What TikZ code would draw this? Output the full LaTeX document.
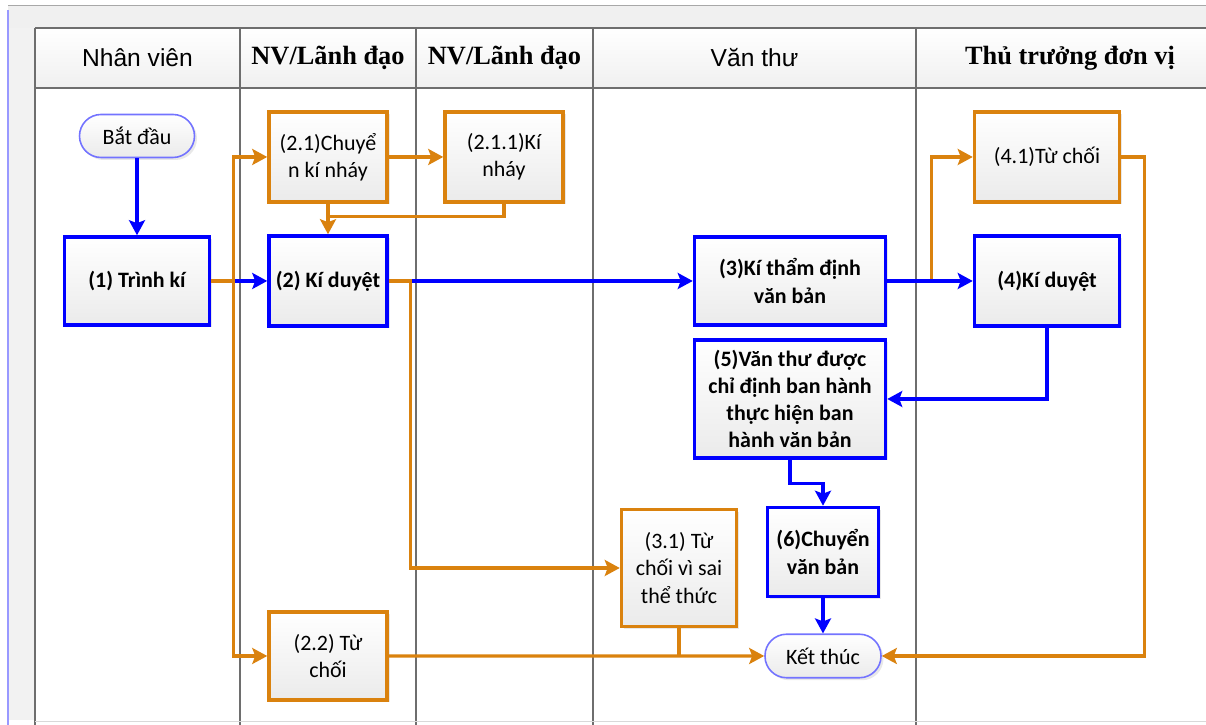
\documentclass[tikz,border=0pt]{standalone}
\usepackage{fontspec}
\setmainfont{Carlito}
\newfontfamily\lanesans{Liberation Sans}
\newfontfamily\laneserif{Liberation Serif}
\usetikzlibrary{arrows.meta, shadows}
\definecolor{flowblue}{RGB}{0,0,255}
\definecolor{flowamber}{RGB}{218,130,14}
\definecolor{laneline}{RGB}{110,110,110}
\tikzset{
    stepbox/.style={rectangle, draw, line width=2pt, top color=white, bottom color=gray!16, align=center, inner sep=2pt,
        font=\fontsize{12.5}{15.5}\selectfont, drop shadow={opacity=0.18, shadow xshift=0.05cm, shadow yshift=-0.05cm}},
    mainstep/.style={stepbox, draw=flowblue, font=\fontsize{12.5}{15.5}\selectfont\bfseries},
    sidestep/.style={stepbox, draw=flowamber},
    terminal/.style={stepbox, draw=flowblue!55, line width=0.9pt, rounded corners=0.43cm, minimum width=2.32cm, minimum height=0.87cm},
    blueline/.style={draw=flowblue, line width=1.8pt},
    amberline/.style={draw=flowamber, line width=1.8pt},
    lanehead/.style={inner sep=0pt}
}

\begin{document}
\begin{tikzpicture}[
    >={Stealth[length=0.3cm, width=0.32cm, inset=0.06cm]}, node distance=2.48cm
]
\useasboundingbox (0,0) rectangle (24.12,14.5);
% swimlane frame
\fill[gray!12] (0.16,13.94) rectangle (24.12,14.4);
\draw[laneline!60, line width=0.5pt] (0.16,14.4) -- (24.12,14.4);
\fill[gray!10] (0.16,0.1) rectangle (0.7,13.94);
\shade[top color=white, bottom color=gray!12] (0.7,12.74) rectangle (24.12,13.94);
\draw[blue!40, line width=1.4pt] (0.16,0) -- (0.16,14.3);
\draw[laneline, line width=0.7pt] (0.7,13.94) -- (24.12,13.94);
\draw[laneline, line width=0.7pt] (0.7,12.74) -- (24.12,12.74);
\draw[laneline, line width=0.7pt] (0.7,0) -- (0.7,13.94);
\draw[laneline, line width=0.7pt] (4.8,0) -- (4.8,13.94);
\draw[laneline, line width=0.7pt] (8.32,0) -- (8.32,13.94);
\draw[laneline, line width=0.7pt] (11.86,0) -- (11.86,13.94);
\draw[laneline, line width=0.7pt] (18.32,0) -- (18.32,13.94);
\draw[gray!30, line width=0.5pt] (0.7,0.08) -- (24.12,0.08);

\node (lane_staff) [lanehead] at (2.75,13.34) {\lanesans\fontsize{14}{16}\selectfont Nhân viên};
\node (lane_lead_a) [lanehead] at (6.56,13.34) {\laneserif\bfseries\fontsize{15}{17}\selectfont NV/Lãnh đạo};
\node (lane_lead_b) [lanehead] at (10.09,13.34) {\laneserif\bfseries\fontsize{15}{17}\selectfont NV/Lãnh đạo};
\node (lane_clerk) [lanehead] at (15.09,13.34) {\lanesans\fontsize{14}{16}\selectfont Văn thư};
\node (lane_head) [lanehead] at (21.4,13.34) {\laneserif\bfseries\fontsize{15}{17}\selectfont Thủ trưởng đơn vị};

% steps
\node (prelim_sign) [sidestep, minimum width=2.36cm, minimum height=1.8cm] at (6.56,11.36) {(2.1)Chuyể\\n kí nháy};
\node (approve_nv) [mainstep, minimum width=2.36cm, minimum height=1.8cm, below of=prelim_sign] {(2) Kí duyệt};
\node (prelim_sign_done) [sidestep, minimum width=2.36cm, minimum height=1.8cm, right of=prelim_sign, xshift=1.04cm] {(2.1.1)Kí\\nháy};
\node (submit_sign) [mainstep, minimum width=2.9cm, minimum height=1.76cm, left of=approve_nv, xshift=-1.34cm] {(1) Trình kí};
\node (start_node) [terminal, minimum width=2.3cm, minimum height=0.86cm, above of=submit_sign, yshift=0.42cm] {Bắt đầu};
\node (appraise) [mainstep, minimum width=3.82cm, minimum height=1.76cm, right of=approve_nv, xshift=6.76cm] {(3)Kí thẩm định\\văn bản};
\node (approve_head) [mainstep, minimum width=2.9cm, minimum height=1.8cm, right of=appraise, xshift=2.66cm] {(4)Kí duyệt};
\node (reject_head) [sidestep, minimum width=2.9cm, minimum height=1.8cm, above of=approve_head] {(4.1)Từ chối};
\node (issue) [mainstep, minimum width=3.82cm, minimum height=2.36cm, below of=appraise, yshift=0.12cm] {(5)Văn thư được\\chỉ định ban hành\\thực hiện ban\\hành văn bản};
\node (transfer) [mainstep, minimum width=2.22cm, minimum height=1.78cm, below of=issue, xshift=0.66cm, yshift=-0.58cm] {(6)Chuyển\\văn bản};
\node (end_node) [terminal, below of=transfer, yshift=0.4cm] {Kết thúc};
\node (reject_format) [sidestep, minimum width=2.3cm, minimum height=2.34cm, left of=transfer, xshift=-0.4cm, yshift=-0.32cm] {(3.1) Từ\\chối vì sai\\thể thức};
\node (reject_nv) [sidestep, minimum width=2.36cm, minimum height=1.76cm, below of=approve_nv, yshift=-5.02cm] {(2.2) Từ\\chối};

% connectors
\draw[blueline, ->] (start_node) -- (submit_sign);
\draw[blueline, ->] (submit_sign) -- (approve_nv);
\draw[amberline] (submit_sign.east) -- ++(0.45,0) coordinate (split_submit);
\draw[amberline, ->] (split_submit) |- (prelim_sign.west);
\draw[amberline, ->] (split_submit) |- (reject_nv.west);
\draw[amberline, ->] (prelim_sign) -- (prelim_sign_done);
\draw[amberline] (prelim_sign_done.south) -- ++(0,-0.26) -| (prelim_sign.south);
\draw[amberline, ->] (prelim_sign) -- (approve_nv);
\draw[blueline, ->] (approve_nv) -- (appraise);
\draw[amberline, ->] (approve_nv.east) -- ++(0.44,0) |- (reject_format.west);
\draw[amberline, ->] (appraise.east) ++(0.89,0) |- (reject_head.west);
\draw[blueline, ->] (appraise) -- (approve_head);
\draw[amberline, ->] (reject_head.east) -- ++(0.47,0) |- (end_node.east);
\draw[blueline, ->] (approve_head.south) |- (issue.east);
\draw[blueline, ->] (issue.south) -- ++(0,-0.48) -| (transfer.north);
\draw[blueline, ->] (transfer) -- (end_node);
\draw[amberline] (reject_format.south) -- (reject_format.south |- end_node.west);
\draw[amberline, ->] (reject_nv) -- (end_node);
\end{tikzpicture}
\end{document}
